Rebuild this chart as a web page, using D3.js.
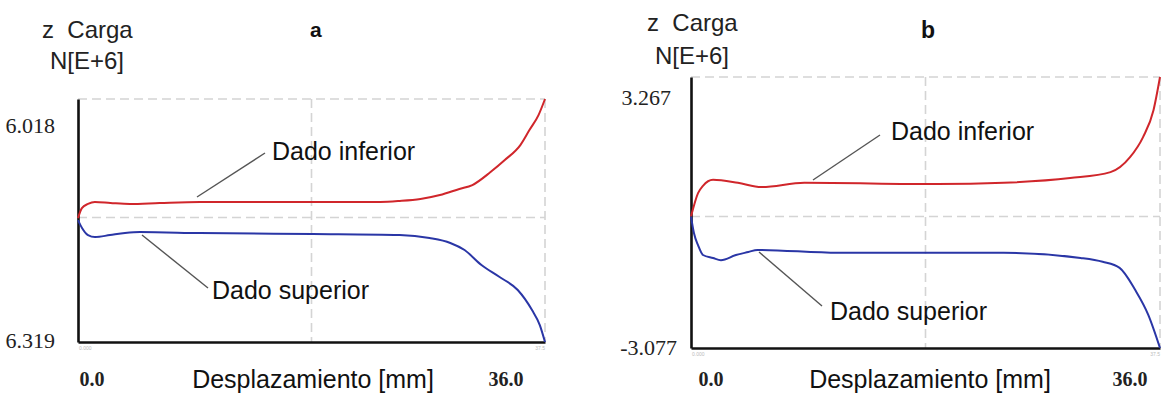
<!DOCTYPE html>
<html><head><meta charset="utf-8">
<script src="https://cdn.jsdelivr.net/npm/d3@7"></script>
<style>body{margin:0;background:#fff}svg{display:block}</style>
</head><body>
<svg id="c" width="1167" height="393"></svg>
<script>
// ---- data ----
const panelNames = ["a", "b"];
const yTickLabelsA = ["6.018", "6.319"];
const yTickLabelsB = ["3.267", "-3.077"];
const xTickLabels = ["0.0", "36.0"];
const yDomainA = [-6.319, 6.018];
const yDomainB = [-3.077, 3.267];
const xDomain = [0, 36];

// Panel a, Dado inferior (red)
const aInfX = [0, 0.3, 0.77, 1.3, 2.5, 4.0, 6.3, 9.4, 13.3, 18.1, 23.3, 24.8, 26.4, 27.9, 29.4, 30.4, 31.8, 32.9, 34.1, 34.8, 35.5, 36];
const aInfY = [-0.03, 0.48, 0.69, 0.79, 0.74, 0.69, 0.74, 0.79, 0.79, 0.79, 0.79, 0.84, 0.94, 1.14, 1.45, 1.65, 2.31, 2.92, 3.68, 4.44, 5.20, 6.018];
// Panel a, Dado superior (blue)
const aSupX = [0, 0.31, 0.77, 1.31, 2.47, 3.62, 4.78, 9.4, 18.1, 24.8, 27.1, 28.7, 29.8, 31.1, 32.5, 33.9, 35.0, 35.6, 36];
const aSupY = [-0.13, -0.53, -0.89, -0.99, -0.89, -0.79, -0.74, -0.79, -0.84, -0.89, -1.04, -1.29, -1.65, -2.41, -3.02, -3.68, -4.70, -5.46, -6.319];
// Panel b, Dado inferior (red)
const bInfX = [0, 0.54, 0.92, 1.69, 3.6, 5.4, 8.7, 18.9, 24.0, 29.1, 32.2, 33.7, 34.7, 35.5, 36];
const bInfY = [0.0, 0.55, 0.72, 0.86, 0.79, 0.69, 0.79, 0.76, 0.79, 0.90, 1.04, 1.39, 1.86, 2.49, 3.267];
// Panel b, Dado superior (blue)
const bSupX = [0, 0.23, 0.54, 0.92, 1.69, 2.3, 3.45, 4.4, 5.1, 11.3, 24.0, 29.9, 31.6, 32.9, 34.1, 35.1, 36];
const bSupY = [0.0, -0.39, -0.67, -0.90, -0.97, -1.02, -0.90, -0.83, -0.78, -0.85, -0.85, -0.97, -1.06, -1.20, -1.72, -2.30, -3.077];

// ---- layout ----
const svg = d3.select("#c");
const panels = [
  { name: panelNames[0], x0: 78, x1: 545, yTop: 99, yBot: 342, yDom: yDomainA, yLabels: yTickLabelsA,
    inf: aInfX.map((x,i)=>[x,aInfY[i]]), sup: aSupX.map((x,i)=>[x,aSupY[i]]),
    titleX: 42, titleY: 38, nX: 50, nY: 69, letterX: 310, letterY: 37, letterSize: 21,
    ylabTop: [55, 133], ylabBot: [55, 348],
    infText: [272, 160], infLine: [[265,153],[197,197]],
    supText: [212, 299], supLine: [[142,235],[208,288]],
    xlabY: 388, x0lab: [92, 386], x36lab: [506, 386], xTitleX: 313 },
  { name: panelNames[1], x0: 691, x1: 1160, yTop: 77, yBot: 348, yDom: yDomainB, yLabels: yTickLabelsB,
    inf: bInfX.map((x,i)=>[x,bInfY[i]]), sup: bSupX.map((x,i)=>[x,bSupY[i]]),
    titleX: 647, titleY: 31, nX: 655, nY: 64, letterX: 921, letterY: 38, letterSize: 23,
    ylabTop: [671, 105], ylabBot: [677, 355],
    infText: [891, 140], infLine: [[880,135],[813,180]],
    supText: [830, 320], supLine: [[759,252],[822,306]],
    xlabY: 388, x0lab: [711, 386], x36lab: [1130, 386], xTitleX: 930 }
];

const sans = "'Liberation Sans', Arial, sans-serif";
const serif = "'Liberation Serif', 'Times New Roman', serif";

panels.forEach(p => {
  const x = d3.scaleLinear().domain(xDomain).range([p.x0, p.x1]);
  const y = d3.scaleLinear().domain(p.yDom).range([p.yBot, p.yTop]);
  const g = svg.append("g");

  // grid (dashed light gray)
  const grid = g.append("g").attr("stroke", "#d4d4d4").attr("stroke-width", 1.6)
    .attr("stroke-dasharray", "9,5").attr("fill", "none");
  grid.append("line").attr("x1", x(0)).attr("x2", x(36)).attr("y1", y(p.yDom[1])).attr("y2", y(p.yDom[1]));
  grid.append("line").attr("x1", x(0)).attr("x2", x(36)).attr("y1", y(0)).attr("y2", y(0));
  grid.append("line").attr("x1", x(18)).attr("x2", x(18)).attr("y1", y(p.yDom[1])).attr("y2", y(p.yDom[0]));
  grid.append("line").attr("x1", x(36)).attr("x2", x(36)).attr("y1", y(p.yDom[1])).attr("y2", y(p.yDom[0]));

  // axes
  const yAxis = d3.axisLeft(y).tickValues([]).tickSizeOuter(0);
  const xAxis = d3.axisBottom(x).tickValues([]).tickSizeOuter(0);
  const ya = g.append("g").attr("transform", `translate(${x(0)},0)`).call(yAxis);
  const xa = g.append("g").attr("transform", `translate(0,${y(p.yDom[0])})`).call(xAxis);
  [ya, xa].forEach(a => a.select(".domain").attr("stroke", "#111").attr("stroke-width", 2.6));

  // tiny faint labels under axis
  g.append("text").attr("x", x(0)+1).attr("y", y(p.yDom[0])+8).attr("font-size", 5)
    .attr("fill", "#bbb").attr("font-family", sans).text("0.000");
  g.append("text").attr("x", x(36)).attr("y", y(p.yDom[0])+8).attr("font-size", 5)
    .attr("text-anchor", "end").attr("fill", "#bbb").attr("font-family", sans).text("37.5");

  // curves
  const line = d3.line().x(d => x(d[0])).y(d => y(d[1])).curve(d3.curveMonotoneX);
  g.append("path").datum(p.inf).attr("d", line).attr("fill", "none")
    .attr("stroke", "#d0262b").attr("stroke-width", 2);
  g.append("path").datum(p.sup).attr("d", line).attr("fill", "none")
    .attr("stroke", "#2a36a6").attr("stroke-width", 2);

  // leader lines & annotation text
  g.append("line").attr("x1", p.infLine[0][0]).attr("y1", p.infLine[0][1])
    .attr("x2", p.infLine[1][0]).attr("y2", p.infLine[1][1]).attr("stroke", "#555").attr("stroke-width", 1.4);
  g.append("line").attr("x1", p.supLine[0][0]).attr("y1", p.supLine[0][1])
    .attr("x2", p.supLine[1][0]).attr("y2", p.supLine[1][1]).attr("stroke", "#555").attr("stroke-width", 1.4);
  g.append("text").attr("x", p.infText[0]).attr("y", p.infText[1]).attr("font-family", sans)
    .attr("font-size", 25).attr("fill", "#111").text("Dado inferior");
  g.append("text").attr("x", p.supText[0]).attr("y", p.supText[1]).attr("font-family", sans)
    .attr("font-size", 25).attr("fill", "#111").text("Dado superior");

  // titles
  g.append("text").attr("x", p.titleX).attr("y", p.titleY).attr("font-family", sans)
    .attr("font-size", 24).attr("fill", "#222").attr("xml:space", "preserve").text("z  Carga");
  g.append("text").attr("x", p.nX).attr("y", p.nY).attr("font-family", sans)
    .attr("font-size", 24).attr("fill", "#222").text("N[E+6]");
  g.append("text").attr("x", p.letterX).attr("y", p.letterY).attr("font-family", sans)
    .attr("font-size", p.letterSize).attr("font-weight", "bold").attr("fill", "#111").text(p.name);

  // y tick labels (serif)
  g.append("text").attr("x", p.ylabTop[0]).attr("y", p.ylabTop[1]).attr("text-anchor", "end")
    .attr("font-family", serif).attr("font-size", 22).attr("fill", "#222").text(p.yLabels[0]);
  g.append("text").attr("x", p.ylabBot[0]).attr("y", p.ylabBot[1]).attr("text-anchor", "end")
    .attr("font-family", serif).attr("font-size", 22).attr("fill", "#222").text(p.yLabels[1]);

  // x tick labels
  g.append("text").attr("x", p.x0lab[0]).attr("y", p.x0lab[1]).attr("text-anchor", "middle")
    .attr("font-family", serif).attr("font-size", 20).attr("font-weight", "bold").attr("fill", "#222").text(xTickLabels[0]);
  g.append("text").attr("x", p.x36lab[0]).attr("y", p.x36lab[1]).attr("text-anchor", "middle")
    .attr("font-family", serif).attr("font-size", 20).attr("font-weight", "bold").attr("fill", "#222").text(xTickLabels[1]);

  // x title
  g.append("text").attr("x", p.xTitleX).attr("y", p.xlabY).attr("text-anchor", "middle")
    .attr("font-family", sans).attr("font-size", 25).attr("fill", "#111").text("Desplazamiento [mm]");
});
</script>
</body></html>
